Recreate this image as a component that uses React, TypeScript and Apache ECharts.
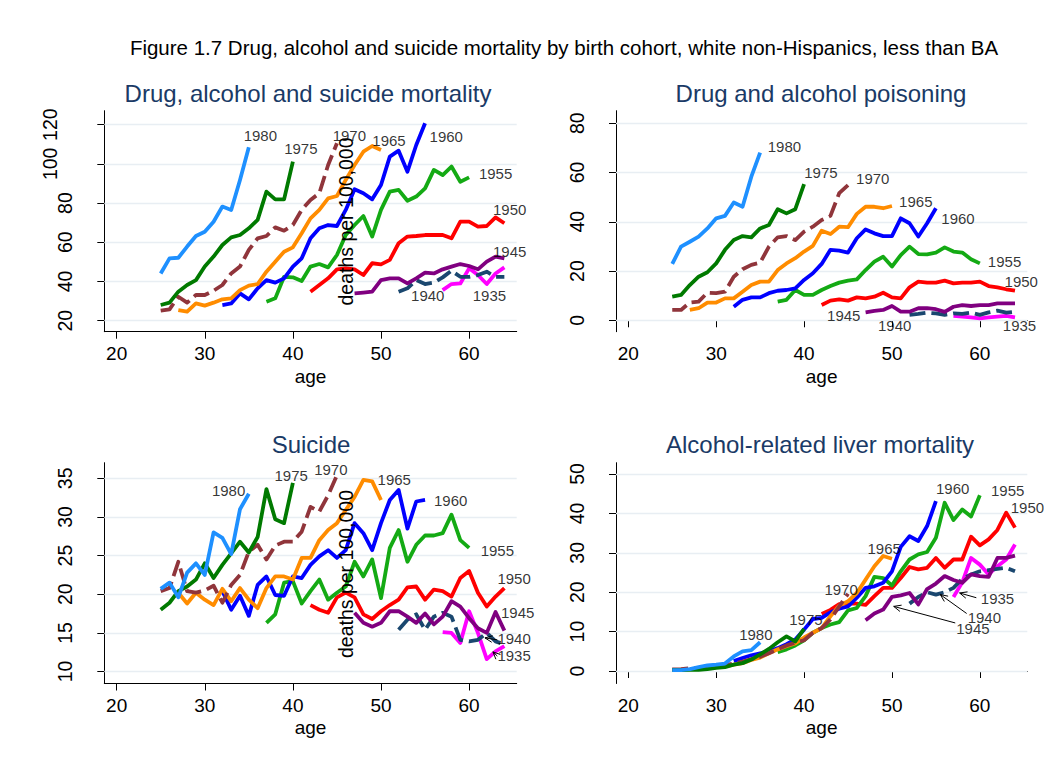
import React, { useEffect, useRef } from 'react';
import * as echarts from 'echarts';

const FONT = '"Liberation Sans", Arial, sans-serif';

// Cohorts (birth year), first age observed, styles
const cohorts = ['1980', '1975', '1970', '1965', '1960', '1955', '1950', '1945', '1940', '1935'];
const firstAge = [25, 25, 25, 27, 32, 37, 42, 47, 52, 57];
const cohortColors = ['#1E90FF', '#007A00', '#90353B', '#FF8C00', '#0000FF', '#14AA14', '#FF0000', '#800080', '#1A476F', '#FF00FF'];
const cohortDashed = [false, false, true, false, false, false, false, false, true, false];

// Panel 1: Drug, alcohol and suicide mortality (deaths per 100,000), by age from firstAge
const drugAlcSuicide: number[][] = [
  [44.1, 51.8, 52.1, 57.8, 63.2, 65.4, 70.5, 78.2, 76.5, 91.8, 108.4],
  [28.0, 29.2, 34.8, 38.2, 40.7, 47.6, 52.7, 58.6, 62.5, 63.7, 67.1, 71.4, 85.8, 81.9, 81.9, 101.1],
  [25.1, 25.8, 32.2, 29.2, 33.1, 33.1, 35.3, 38.2, 44.1, 47.6, 56.1, 62.0, 63.2, 67.6, 65.9, 68.8, 76.5, 81.6, 85.0, 99.4, 110.5],
  [25.4, 24.6, 28.8, 27.7, 29.2, 30.9, 31.4, 35.6, 37.9, 38.7, 45.0, 50.1, 55.2, 57.4, 64.6, 72.2, 76.5, 82.4, 83.6, 91.8, 99.4, 106.2, 109.1, 107.1],
  [28.0, 28.8, 33.9, 30.9, 36.5, 40.7, 39.4, 41.6, 47.6, 51.8, 62.0, 67.1, 68.8, 68.3, 76.5, 87.0, 85.0, 81.9, 89.2, 103.7, 106.7, 96.0, 109.6, 120.7],
  [29.7, 31.4, 42.4, 42.1, 40.2, 47.6, 48.9, 47.2, 53.5, 63.7, 68.8, 73.4, 62.9, 76.5, 85.8, 86.7, 81.2, 83.3, 87.5, 96.9, 94.3, 98.6, 90.9, 93.1],
  [34.8, 38.2, 41.6, 46.2, 46.7, 46.2, 43.3, 49.3, 48.7, 51.0, 59.5, 62.9, 63.2, 63.7, 63.7, 63.7, 62.0, 70.5, 70.5, 68.0, 68.3, 72.7, 69.7],
  [33.9, 34.3, 34.8, 40.7, 41.6, 41.6, 39.0, 41.6, 44.5, 44.1, 46.2, 47.6, 48.9, 47.9, 46.2, 50.1, 52.7, 51.8],
  [34.8, 36.5, 40.7, 38.7, 39.4, 42.1, 45.5, 42.4, 42.4, 43.3, 45.0, 42.4, 42.4],
  [35.6, 38.7, 39.0, 46.7, 43.3, 38.7, 44.1, 47.2],
];

// Panel 2: Drug and alcohol poisoning
const poisoning: number[][] = [
  [22.9, 29.9, 31.9, 34.0, 37.3, 41.4, 42.4, 47.8, 46.1, 58.3, 68.1],
  [9.6, 10.3, 14.3, 17.7, 19.5, 23.1, 28.6, 32.6, 34.2, 33.7, 37.3, 38.7, 45.1, 43.4, 45.1, 55.3],
  [4.2, 4.2, 7.2, 7.6, 11.2, 11.0, 11.6, 17.7, 20.7, 22.5, 23.4, 29.9, 33.7, 34.2, 32.6, 36.0, 38.0, 40.7, 42.4, 51.6, 54.9],
  [4.2, 4.9, 7.2, 7.2, 8.9, 8.9, 11.6, 14.3, 15.7, 15.7, 20.4, 23.1, 25.2, 27.9, 30.2, 36.4, 35.0, 38.0, 37.8, 43.2, 46.1, 46.1, 45.5, 46.4],
  [5.5, 8.3, 9.3, 9.3, 11.0, 12.0, 12.3, 13.0, 16.4, 19.1, 22.9, 28.6, 28.3, 27.5, 33.3, 36.9, 35.3, 34.2, 34.2, 41.4, 39.4, 34.0, 39.4, 45.5],
  [7.6, 8.3, 12.3, 10.3, 10.3, 12.3, 13.9, 15.3, 16.1, 16.6, 20.4, 23.8, 25.8, 21.8, 26.5, 29.9, 26.9, 26.8, 27.5, 29.6, 27.9, 27.5, 24.8, 23.1],
  [6.2, 8.0, 8.5, 8.0, 9.3, 8.9, 9.6, 11.2, 9.3, 8.9, 13.4, 15.7, 15.3, 15.3, 16.1, 15.0, 15.3, 15.3, 15.7, 13.9, 13.4, 12.6, 12.0],
  [3.2, 3.8, 4.2, 5.8, 3.5, 3.5, 4.9, 4.9, 4.5, 3.4, 5.5, 6.2, 5.8, 6.2, 6.2, 6.9, 6.9, 6.9],
  [2.2, 2.6, 3.1, 2.8, 2.2, 2.8, 2.6, 3.1, 2.2, 3.2, 3.9, 3.1, 3.5],
  [1.8, 1.5, 1.2, 0.8, 1.2, 1.5, 1.8, 1.2],
];

// Panel 3: Suicide
const suicide: number[][] = [
  [20.7, 21.5, 19.6, 22.8, 24.0, 22.5, 28.0, 27.3, 25.2, 31.0, 33.0],
  [18.0, 18.9, 20.4, 21.0, 21.9, 24.0, 22.1, 23.8, 25.3, 26.8, 25.4, 27.4, 33.6, 29.7, 29.2, 34.4],
  [20.4, 20.8, 24.2, 20.4, 20.2, 20.5, 21.1, 18.9, 21.2, 22.5, 25.5, 26.4, 24.5, 26.3, 26.8, 26.8, 28.1, 31.3, 30.7, 32.8, 35.4],
  [20.2, 18.8, 20.2, 19.3, 18.6, 20.7, 19.1, 20.8, 19.3, 18.2, 20.8, 22.3, 22.3, 21.9, 24.7, 24.7, 27.0, 28.3, 29.2, 30.9, 32.6, 34.8, 34.6, 32.2],
  [20.4, 18.0, 19.8, 17.2, 21.2, 22.3, 19.9, 19.8, 22.3, 22.1, 23.8, 24.9, 25.7, 24.7, 25.7, 29.2, 27.9, 25.7, 29.2, 32.2, 33.5, 28.5, 32.0, 32.2],
  [16.3, 17.4, 21.5, 21.7, 18.8, 20.4, 21.9, 19.3, 20.2, 21.0, 24.2, 22.3, 24.5, 19.5, 26.0, 28.3, 24.2, 26.4, 27.6, 27.6, 27.9, 30.3, 27.0, 26.0],
  [18.6, 18.0, 17.6, 19.6, 20.2, 19.6, 17.4, 16.8, 17.8, 18.6, 19.3, 20.9, 21.0, 19.3, 20.6, 20.4, 19.7, 22.1, 23.0, 20.2, 18.4, 19.7, 20.8],
  [17.6, 16.3, 15.8, 16.3, 17.8, 17.8, 17.1, 16.3, 17.5, 16.1, 17.1, 19.1, 18.4, 16.9, 15.6, 15.0, 17.7, 15.3],
  [15.4, 16.7, 17.4, 15.4, 17.1, 17.6, 17.1, 14.1, 13.9, 14.1, 15.0, 13.9, 13.5],
  [15.1, 15.0, 13.7, 17.8, 15.0, 11.6, 12.6, 13.3],
];

// Panel 4: Alcohol-related liver mortality
const liver: number[][] = [
  [0.2, 0.2, 0.5, 1.0, 1.4, 1.6, 1.9, 3.7, 5.0, 5.3, 7.3],
  [0.3, 0.2, 0.3, 0.3, 0.5, 0.8, 1.0, 1.6, 2.0, 2.9, 4.2, 5.6, 7.3, 8.8, 7.5, 10.7],
  [0.4, 0.5, 0.7, 0.8, 1.0, 1.2, 1.5, 1.9, 2.4, 3.0, 3.6, 4.5, 5.5, 6.5, 7.2, 7.8, 9.7, 10.9, 13.1, 16.4, 19.6],
  [0.5, 0.6, 0.8, 1.0, 1.2, 1.6, 2.0, 2.8, 3.4, 4.5, 5.5, 6.3, 7.0, 8.5, 9.7, 10.9, 13.9, 16.6, 17.7, 19.8, 23.2, 26.6, 29.2, 28.5],
  [2.5, 3.3, 4.0, 4.5, 5.0, 5.8, 6.8, 8.0, 10.5, 13.2, 13.5, 14.9, 15.8, 16.4, 18.6, 21.1, 21.5, 22.4, 25.3, 31.5, 34.2, 33.0, 36.8, 43.1],
  [4.8, 5.5, 6.5, 7.8, 9.7, 10.9, 11.8, 12.4, 15.4, 16.0, 19.0, 23.9, 23.6, 21.7, 25.3, 28.3, 29.6, 30.2, 33.8, 42.7, 38.3, 41.0, 39.2, 44.6],
  [14.5, 15.5, 17.0, 17.2, 17.1, 16.8, 19.0, 21.1, 21.1, 23.6, 26.4, 25.8, 26.2, 28.7, 26.2, 28.3, 28.3, 34.1, 31.9, 33.4, 35.8, 40.2, 36.4],
  [12.9, 14.6, 15.6, 18.8, 19.2, 19.8, 16.9, 20.8, 22.2, 24.1, 23.1, 22.4, 24.5, 24.1, 23.9, 28.7, 28.7, 29.3],
  [17.1, 18.8, 20.0, 19.4, 20.0, 21.1, 23.4, 24.5, 25.3, 25.6, 25.9, 26.2, 25.3],
  [18.8, 22.5, 28.7, 27.0, 24.5, 26.6, 28.3, 32.1],
];

// Cohort label anchors [age, value, text]
const labels1: [number, number, string][] = [
  [34.3, 114.7, '1980'], [38.9, 107.6, '1975'], [44.4, 114.2, '1970'], [48.9, 111.8, '1965'],
  [55.4, 113.9, '1960'], [61.0, 95.2, '1955'], [62.6, 76.5, '1950'], [62.6, 55.2, '1945'],
  [53.3, 32.7, '1940'], [60.3, 32.7, '1935'],
];
const labels2: [number, number, string][] = [
  [35.75, 70.5, '1980'], [39.9, 59.9, '1975'], [45.8, 57.4, '1970'], [50.7, 48.2, '1965'],
  [55.5, 41.4, '1960'], [60.8, 23.8, '1955'], [62.7, 15.7, '1950'], [42.5, 2.15, '1945'],
  [48.3, -2.2, '1940'], [62.5, -2.2, '1935'],
];
const labels3: [number, number, string][] = [
  [30.7, 33.4, '1980'], [37.8, 35.3, '1975'], [42.3, 36.2, '1970'], [49.5, 34.9, '1965'],
  [55.9, 32.1, '1960'], [61.2, 25.6, '1955'], [63.1, 22.0, '1950'], [63.5, 17.6, '1945'],
  [63.1, 14.3, '1940'], [63.1, 12.1, '1935'],
];
const labels4: [number, number, string][] = [
  [32.5, 9.2, '1980'], [38.2, 13.0, '1975'], [42.2, 20.7, '1970'], [47.1, 31.1, '1965'],
  [54.9, 46.3, '1960'], [61.15, 45.9, '1955'], [63.4, 41.6, '1950'], [60.0, 18.4, '1935'],
  [58.5, 13.7, '1940'], [57.2, 10.8, '1945'],
];

// Arrows [tailAge, tailValue, headAge, headValue]
const arrows3: number[][] = [
  [63.2, 14.1, 61.8, 14.35],
  [63.2, 12.0, 62.7, 12.55],
];
const arrows4: number[][] = [
  [59.6, 18.6, 57.7, 19.8],
  [58.5, 14.6, 55.5, 19.4],
  [57.2, 12.2, 50.2, 16.4],
];

// Axis ticks
const xTicks = [20, 30, 40, 50, 60];
const yTicks1 = [20, 40, 60, 80, 100, 120];
const yTicks2 = [0, 20, 40, 60, 80];
const yTicks3 = [10, 15, 20, 25, 30, 35];
const yTicks4 = [0, 10, 20, 30, 40, 50];

const panelTitles = ['Drug, alcohol and suicide mortality', 'Drug and alcohol poisoning', 'Suicide', 'Alcohol-related liver mortality'];
const mainTitle = 'Figure 1.7 Drug, alcohol and suicide mortality by birth cohort, white non-Hispanics, less than BA';

function buildOption() {
  const grids = [
    { left: 104.3, top: 110.7, width: 412.4, height: 221 },
    { left: 616, top: 110.7, width: 411.3, height: 221 },
    { left: 104.3, top: 462.7, width: 412.4, height: 220.8 },
    { left: 616, top: 462.7, width: 411.3, height: 220.8 },
  ];
  const yRanges = [[14.39, 127.1], [-4.63, 85.1], [8.45, 37.02], [-3.17, 52.87]];
  const yTicks = [yTicks1, yTicks2, yTicks3, yTicks4];
  const panels = [drugAlcSuicide, poisoning, suicide, liver];
  const panelLabels = [labels1, labels2, labels3, labels4];
  const panelArrows = [[], [], arrows3, arrows4];

  const xAxis = grids.map((_, i) => ({
    type: 'value', gridIndex: i, min: 18.6, max: 65.4,
    name: 'age', nameLocation: 'middle', nameGap: i < 2 ? 35 : 34,
    nameTextStyle: { fontSize: 19, color: '#000', fontFamily: FONT },
    axisLine: { show: true, lineStyle: { color: '#000', width: 1 } },
    axisTick: { show: true, length: 7, customValues: xTicks, lineStyle: { color: '#000' } },
    axisLabel: { customValues: xTicks, fontSize: 19, color: '#000', margin: 12, fontFamily: FONT },
    splitLine: { show: false },
  }));

  const yAxis: any[] = grids.map((_, i) => ({
    type: 'value', gridIndex: i, min: yRanges[i][0], max: yRanges[i][1], position: 'left',
    axisLine: { show: true, lineStyle: { color: '#000', width: 1 } },
    axisTick: { show: true, length: 7, customValues: yTicks[i], lineStyle: { color: '#000' } },
    axisLabel: {
      customValues: i === 0 ? yTicks[i].filter((t) => t < 100) : yTicks[i],
      rotate: 90, fontSize: 19.5, color: '#000', margin: 29, fontFamily: FONT,
    },
    splitLine: { show: false },
  }));
  // panel 1: the three-digit labels sit further out
  yAxis.push({
    type: 'value', gridIndex: 0, min: yRanges[0][0], max: yRanges[0][1], position: 'left',
    axisLine: { show: false }, axisTick: { show: false }, splitLine: { show: false },
    axisLabel: { customValues: yTicks1.filter((t) => t >= 100), rotate: 90, fontSize: 19.5, color: '#000', margin: 44, fontFamily: FONT },
  });

  const series: any[] = [];
  panels.forEach((vals, p) => {
    series.push({
      type: 'line', xAxisIndex: p, yAxisIndex: p, data: [], silent: true,
      markLine: {
        silent: true, symbol: ['none', 'none'], z: 1, animation: false,
        label: { show: false },
        lineStyle: { color: '#E8EEF3', width: 1.3, type: 'solid' },
        emphasis: { disabled: true },
        data: yTicks[p].map((t) => ({ yAxis: t })),
      },
    });
    for (let c = cohorts.length - 1; c >= 0; c--) {
      series.push({
        type: 'line', name: cohorts[c] + '-' + p, xAxisIndex: p, yAxisIndex: p,
        data: vals[c].map((v, k) => [firstAge[c] + k, v]),
        showSymbol: false, symbol: 'none', silent: true,
        lineStyle: {
          color: cohortColors[c], width: 3.8,
          type: cohortDashed[c] ? [16, 6] : 'solid', cap: 'butt', join: 'round',
        },
        z: 3,
      });
    }
    series.push({
      type: 'scatter', xAxisIndex: p, yAxisIndex: p, silent: true, symbolSize: 2,
      itemStyle: { color: 'rgba(255,255,255,0)' }, z: 5,
      labelLayout: { hideOverlap: false },
      data: panelLabels[p].map((l) => ({ value: [l[0], l[1]], name: l[2] })),
      label: { show: true, position: 'right', distance: 0, formatter: '{b}', color: '#000', fontSize: 15, fontFamily: FONT },
    });
    if (panelArrows[p].length) {
      series.push({
        type: 'custom', xAxisIndex: p, yAxisIndex: p, silent: true, z: 5,
        encode: { x: [0, 2], y: [1, 3] },
        data: panelArrows[p],
        renderItem: (params: any, api: any) => {
          const p1 = api.coord([api.value(0), api.value(1)]);
          const p2 = api.coord([api.value(2), api.value(3)]);
          const ang = Math.atan2(p2[1] - p1[1], p2[0] - p1[0]);
          const L = 8, a = 0.42;
          const h1 = [p2[0] - L * Math.cos(ang - a), p2[1] - L * Math.sin(ang - a)];
          const h2 = [p2[0] - L * Math.cos(ang + a), p2[1] - L * Math.sin(ang + a)];
          return {
            type: 'group',
            children: [
              { type: 'line', shape: { x1: p1[0], y1: p1[1], x2: p2[0], y2: p2[1] }, style: { stroke: '#000', lineWidth: 1 } },
              { type: 'polyline', shape: { points: [h1, p2, h2] }, style: { stroke: '#000', fill: null, lineWidth: 1 } },
            ],
          };
        },
      });
    }
  });

  const titleColor = '#1A3A66';
  const graphic = [
    { type: 'text', x: 564, y: 47, style: { text: mainTitle, fontSize: 20.5, fill: '#000', align: 'center', verticalAlign: 'middle', fontFamily: FONT } },
    { type: 'text', x: 308, y: 93, style: { text: panelTitles[0], fontSize: 24, fill: titleColor, align: 'center', verticalAlign: 'middle', fontFamily: FONT } },
    { type: 'text', x: 821, y: 93, style: { text: panelTitles[1], fontSize: 24, fill: titleColor, align: 'center', verticalAlign: 'middle', fontFamily: FONT } },
    { type: 'text', x: 311, y: 444, style: { text: panelTitles[2], fontSize: 24, fill: titleColor, align: 'center', verticalAlign: 'middle', fontFamily: FONT } },
    { type: 'text', x: 820, y: 444, style: { text: panelTitles[3], fontSize: 24, fill: titleColor, align: 'center', verticalAlign: 'middle', fontFamily: FONT } },
    { type: 'text', x: 345.5, y: 221.5, rotation: Math.PI / 2, z: 10, style: { text: 'deaths per 100,000', fontSize: 19.5, fill: '#000', align: 'center', verticalAlign: 'middle', fontFamily: FONT } },
    { type: 'text', x: 345.5, y: 574, rotation: Math.PI / 2, z: 10, style: { text: 'deaths per 100,000', fontSize: 19.5, fill: '#000', align: 'center', verticalAlign: 'middle', fontFamily: FONT } },
  ];

  return {
    animation: false,
    backgroundColor: '#FFFFFF',
    textStyle: { fontFamily: FONT },
    grid: grids.map((g) => ({ ...g, containLabel: false })),
    xAxis,
    yAxis,
    series,
    graphic,
  };
}

export default function App() {
  const ref = useRef<HTMLDivElement>(null);
  useEffect(() => {
    if (!ref.current) return;
    const chart = echarts.init(ref.current, undefined, { renderer: 'svg' });
    chart.setOption(buildOption() as any);
    return () => chart.dispose();
  }, []);
  return (
    <div
      ref={ref}
      style={{ position: 'absolute', left: 0, top: 0, width: 1053, height: 774, background: '#fff' }}
    />
  );
}
